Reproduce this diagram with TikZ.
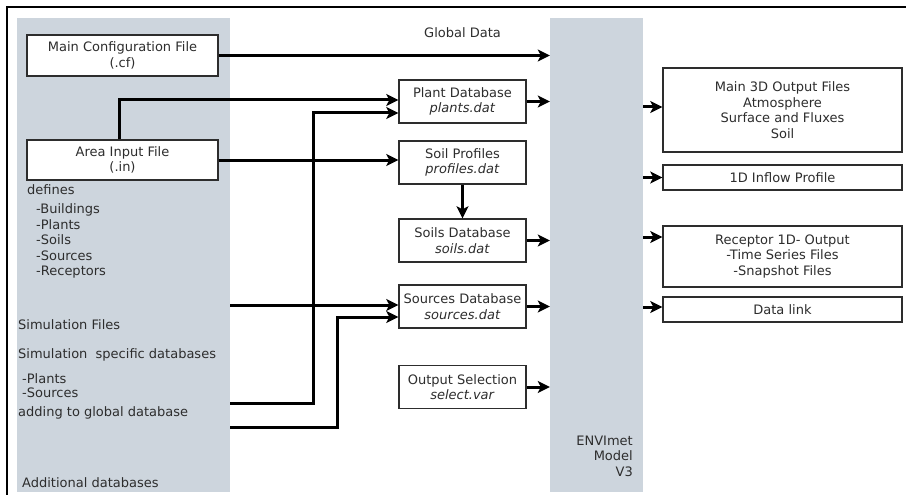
\documentclass[tikz,border=0pt]{standalone}
\usepackage{fontspec}
\setmainfont{DejaVu Sans}
\usetikzlibrary{positioning,arrows.meta}
\definecolor{panelgray}{RGB}{205,213,221}
\definecolor{inkgray}{RGB}{45,45,45}

\begin{document}
\begin{tikzpicture}[x=1pt,y=-1pt,
  font=\fontsize{13}{15.5}\selectfont, text=inkgray,
  panel/.style={fill=panelgray,inner sep=0pt},
  filebox/.style={draw=inkgray,line width=1.4pt,fill=white,align=center,inner sep=0pt},
  dbbox/.style={filebox,minimum width=127pt,minimum height=43pt},
  outbox/.style={filebox,minimum width=239pt},
  note/.style={anchor=west,align=left,inner sep=0pt},
  flow/.style={draw=black,line width=3pt,-{Stealth[length=12pt,width=12pt,inset=3pt]}}]
\useasboundingbox (0,0) rectangle (906,495);
\draw[line width=1.8pt] (7,495) -- (7,7) -- (906,7);
% grey panels
\node[panel,minimum width=213pt,minimum height=474pt] (inputs) at (123.5,255) {};
\node[panel,minimum width=93pt,minimum height=474pt] (envi) at (596.5,255) {};
% input files
\node[filebox,minimum width=191pt,minimum height=41pt] (config) at (122.5,55.5) {Main Configuration File\\(.cf)};
\node[filebox,minimum width=191pt,minimum height=40pt] (area) at (122.5,160) {Area Input File\\(.in)};
\node[note] (defines) at (27,190) {defines};
\node[note] (arealist) at (36,241) {-Buildings\\-Plants\\-Soils\\-Sources\\-Receptors};
\node[note] (simfiles) at (18,325) {Simulation Files};
\node[note] (simspec) at (18,355) {Simulation\ \ specific databases};
\node[note,font=\fontsize{13}{14}\selectfont] (simlist) at (22,386) {-Plants\\-Sources};
\node[note] (adding) at (18,413) {adding to global database};
\node[note] (extra) at (22,483) {Additional databases};
% databases
\node[dbbox] (plant) at (462.5,101.5) {Plant Database\\\textit{plants.dat}};
\node[dbbox] (profiles) at (462.5,162.5) {Soil Profiles\\\textit{profiles.dat}};
\node[dbbox] (soils) at (462.5,240.5) {Soils Database\\\textit{soils.dat}};
\node[dbbox] (sources) at (462.5,306.5) {Sources Database\\\textit{sources.dat}};
\node[dbbox] (select) at (462.5,387) {Output Selection\\\textit{select.var}};
\node (globaltxt) at (462.5,33) {Global Data};
\node[note,anchor=east,align=right] (model) at (633,456) {ENVImet\\Model\\V3};
% outputs
\node[outbox,minimum height=84pt] (main3d) at (782.5,110) {Main 3D Output Files\\Atmosphere\\Surface and Fluxes\\Soil};
\node[outbox,minimum height=25pt] (inflow) at (782.5,177.5) {1D Inflow Profile};
\node[outbox,minimum height=61pt] (receptor) at (782.5,256.5) {Receptor 1D- Output\\-Time Series Files\\-Snapshot Files};
\node[outbox,minimum height=25pt] (datalink) at (782.5,309.5) {Data link};
% connectors
\coordinate (simout) at (230,305);
\coordinate (plantsout) at (230,403);
\coordinate (sourcesout) at (230,427);
\draw[flow] (config.east) -- (config.east -| envi.west);
\draw[flow] ([xshift=-3.5pt]area.north) |- ([yshift=1.5pt]plant.west);
\draw[flow] (area.east) -- (area.east -| profiles.west);
\draw[flow] (profiles) -- (soils);
\draw[flow] (simout) -- (simout -| sources.west);
\draw[flow] (plantsout) -- ++(83,0) |- ([yshift=-11.5pt]plant.west);
\draw[flow] (sourcesout) -- ++(107,0) |- ([yshift=-10.5pt]sources.west);
\foreach \db in {plant,soils,sources,select}
  \draw[flow] (\db.east) -- (\db.east -| envi.west);
\foreach \out/\dy in {main3d/3,inflow/0,receptor/19.5,datalink/2.5}{
  \coordinate (\out-in) at ([yshift=\dy pt]\out.west);
  \draw[flow] (envi.east |- \out-in) -- (\out-in);
}
\end{tikzpicture}
\end{document}
